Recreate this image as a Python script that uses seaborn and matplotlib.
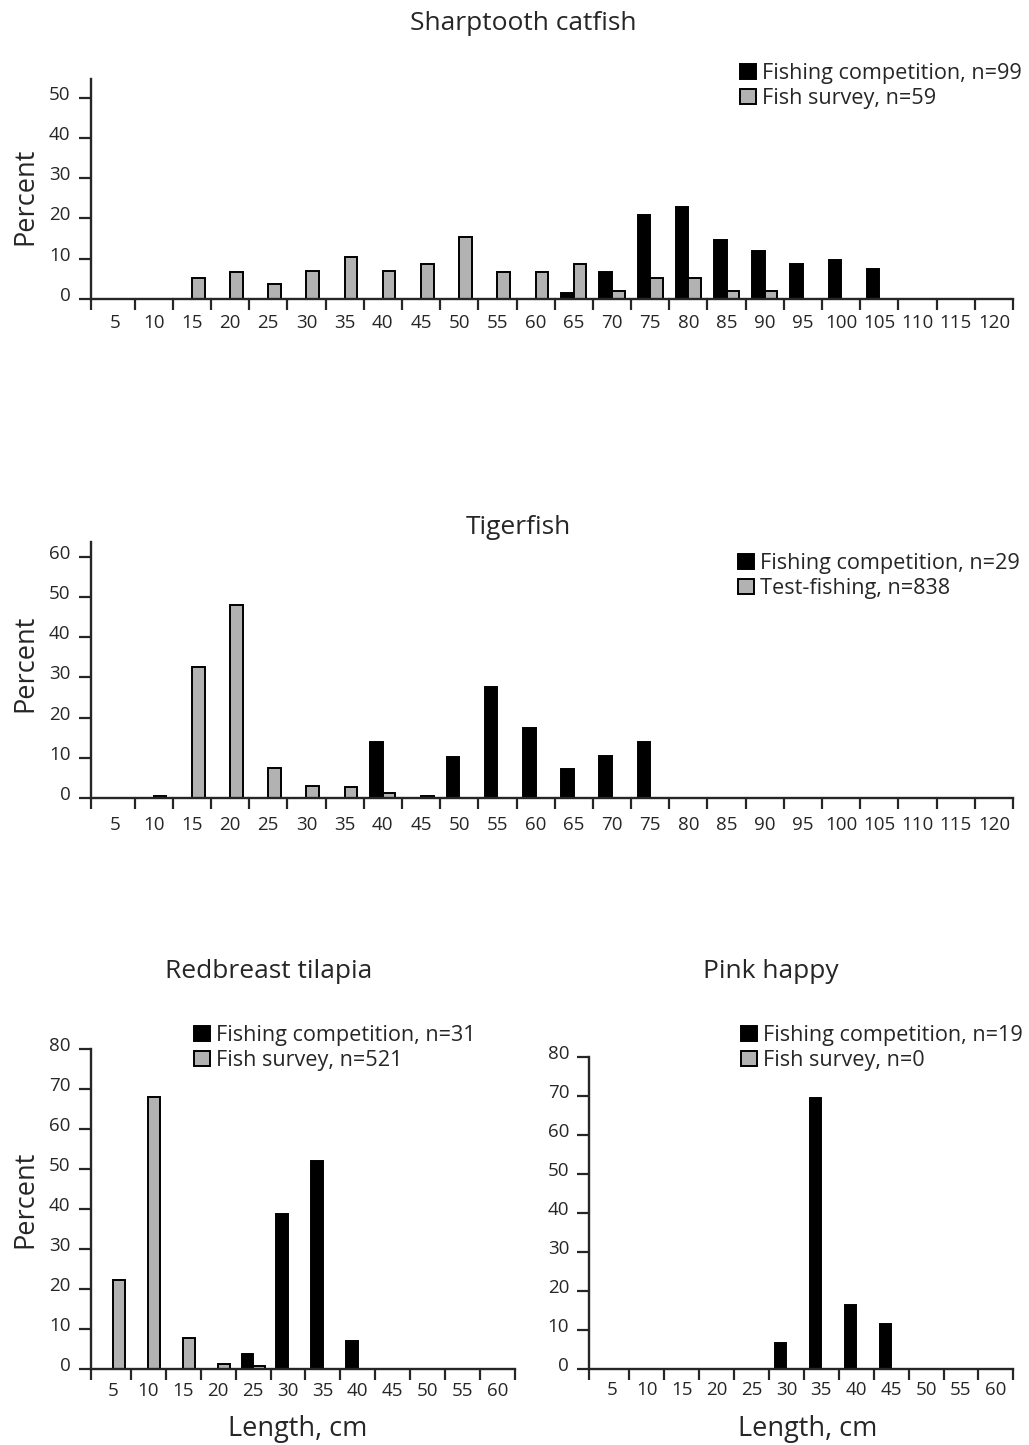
import pandas as pd
import matplotlib
matplotlib.use('Agg')
import matplotlib.pyplot as plt
import matplotlib.transforms as mtransforms
from matplotlib.patches import Patch
import seaborn as sns

# Length classes (cm)
len_long = ['5', '10', '15', '20', '25', '30', '35', '40', '45', '50', '55', '60',
            '65', '70', '75', '80', '85', '90', '95', '100', '105', '110', '115', '120']
len_short = ['5', '10', '15', '20', '25', '30', '35', '40', '45', '50', '55', '60']

# Sharptooth catfish (percent per length class)
catfish_comp = [0, 0, 0, 0, 0, 0, 0, 0, 0, 0, 0, 0,
                1.5, 6.7, 20.8, 22.8, 14.6, 11.8, 8.7, 9.8, 7.5, 0, 0, 0]
catfish_survey = [0, 0, 5.2, 6.8, 3.6, 7.0, 10.3, 7.0, 8.6, 15.3, 6.8, 6.8,
                  8.7, 1.9, 5.1, 5.1, 1.9, 1.9, 0, 0, 0, 0, 0, 0]

# Tigerfish
tiger_comp = [0, 0, 0, 0, 0, 0, 0, 13.9, 0, 10.1, 27.6, 17.5,
              7.2, 10.4, 13.9, 0, 0, 0, 0, 0, 0, 0, 0, 0]
tiger_test = [0, 0.5, 32.7, 48.1, 7.3, 2.9, 2.6, 1.1, 0.5, 0, 0, 0,
              0, 0, 0, 0, 0, 0, 0, 0, 0, 0, 0, 0]

# Redbreast tilapia
tilapia_comp = [0, 0, 0, 0, 3.8, 38.7, 52.0, 6.9, 0, 0, 0, 0]
tilapia_survey = [22.2, 68.0, 7.7, 1.2, 0.6, 0, 0, 0, 0, 0, 0, 0]

# Pink happy
happy_comp = [0, 0, 0, 0, 0, 6.6, 69.5, 16.5, 11.5, 0, 0, 0]
happy_survey = [0, 0, 0, 0, 0, 0, 0, 0, 0, 0, 0, 0]

BLACK = '#000000'
GRAY = '#b2b2b2'
W, H = 1029, 1445

sns.set_style('ticks')
plt.rcParams['font.family'] = ['Open Sans', 'DejaVu Sans']

fig = plt.figure(figsize=(W / 100, H / 100), dpi=100)


def px_rect(left, top, right, bottom):
    return [left / W, 1 - bottom / H, (right - left) / W, (bottom - top) / H]


def draw(ax, cats, comp, other, lab1, lab2, ymax, yticks, xpad, leg_xy):
    df = pd.DataFrame({
        'length': cats + cats,
        'percent': comp + other,
        'source': [lab1] * len(cats) + [lab2] * len(cats),
    })
    sns.barplot(data=df, x='length', y='percent', hue='source', order=cats,
                hue_order=[lab1, lab2], palette=[BLACK, GRAY], width=0.66,
                saturation=1, edgecolor='black', linewidth=1.4, legend=False, ax=ax)
    n = len(cats)
    ax.set_xlim(-0.65, n - 0.5)
    ax.set_ylim(0, ymax)
    ax.set_yticks(yticks)
    ax.set_xticks([-0.65] + [i + 0.5 for i in range(n)], minor=True)
    ax.tick_params(axis='x', which='major', length=0, pad=xpad, labelsize=13.5)
    ax.tick_params(axis='x', which='minor', length=8, width=1.6, direction='out')
    ax.tick_params(axis='y', length=9, width=1.6, pad=5.5, labelsize=13.5)
    ax.set_xlabel('')
    ax.set_ylabel('')
    sns.despine(ax=ax)
    for s in ['left', 'bottom']:
        ax.spines[s].set_linewidth(1.7)
    shift = mtransforms.ScaledTranslation(0, 0.05, fig.dpi_scale_trans)
    for lbl in ax.get_yticklabels():
        lbl.set_transform(lbl.get_transform() + shift)
    handles = [Patch(facecolor=BLACK, edgecolor='black', linewidth=1.4, label=lab1),
               Patch(facecolor=GRAY, edgecolor='black', linewidth=1.4, label=lab2)]
    ax.legend(handles=handles, loc='upper left',
              bbox_to_anchor=(leg_xy[0] / W, 1 - leg_xy[1] / H),
              bbox_transform=fig.transFigure, frameon=False, borderpad=0,
              borderaxespad=0, handlelength=0.72, handleheight=0.72,
              handletextpad=0.3, labelspacing=0.2, fontsize=15.6)


ax1 = fig.add_axes(px_rect(90.7, 79, 1013, 299))
draw(ax1, len_long, catfish_comp, catfish_survey,
     'Fishing competition, n=99', 'Fish survey, n=59',
     54.6, [0, 10, 20, 30, 40, 50], 11, (740, 63))
ax1.set_ylabel('Percent', fontsize=19.5)
ax1.yaxis.set_label_coords(-0.056, 0.465)

ax2 = fig.add_axes(px_rect(90.7, 542.3, 1013, 797.7))
draw(ax2, len_long, tiger_comp, tiger_test,
     'Fishing competition, n=29', 'Test-fishing, n=838',
     63.7, [0, 10, 20, 30, 40, 50, 60], 13.5, (738, 553))
ax2.set_ylabel('Percent', fontsize=19.5)
ax2.yaxis.set_label_coords(-0.056, 0.527)

ax3 = fig.add_axes(px_rect(90.7, 1049, 515, 1368.7))
draw(ax3, len_short, tilapia_comp, tilapia_survey,
     'Fishing competition, n=31', 'Fish survey, n=521',
     80, [0, 10, 20, 30, 40, 50, 60, 70, 80], 9.5, (194, 1025))
ax3.set_ylabel('Percent', fontsize=19.5)
ax3.yaxis.set_label_coords(-0.1218, 0.531)
ax3.set_xlabel('Length, cm', fontsize=19.5)
ax3.xaxis.set_label_coords(0.4886, -0.146)

ax4 = fig.add_axes(px_rect(589.3, 1056.7, 1013.3, 1369))
draw(ax4, len_short, happy_comp, happy_survey,
     'Fishing competition, n=19', 'Fish survey, n=0',
     80, [0, 10, 20, 30, 40, 50, 60, 70, 80], 8.5, (741, 1025))
ax4.set_xlabel('Length, cm', fontsize=19.5)
ax4.xaxis.set_label_coords(0.516, -0.1486)

# Panel titles
fig.text(523 / W, 1 - 23 / H, 'Sharptooth catfish', ha='center', va='center', fontsize=19)
fig.text(518 / W, 1 - 527 / H, 'Tigerfish', ha='center', va='center', fontsize=19)
fig.text(269 / W, 1 - 972 / H, 'Redbreast tilapia', ha='center', va='center', fontsize=19)
fig.text(771 / W, 1 - 972 / H, 'Pink happy', ha='center', va='center', fontsize=19)

fig.savefig('out.png', dpi=100)
